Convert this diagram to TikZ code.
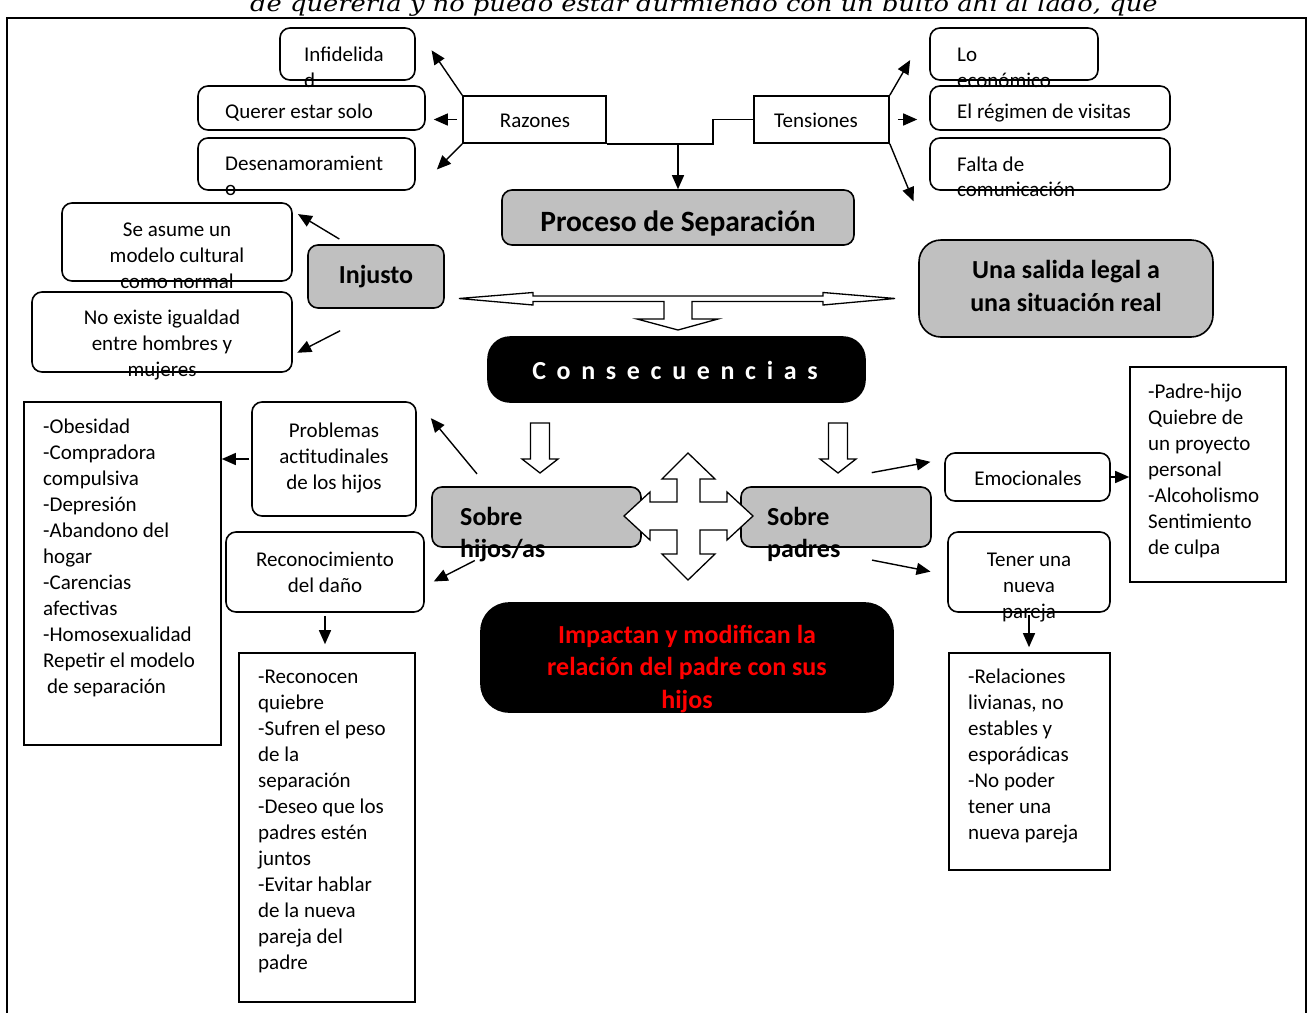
\documentclass[tikz,border=0pt]{standalone}
\usepackage{fontspec}
\setmainfont{Carlito}
\newfontfamily\quotefont{DejaVu Serif}
\newfontfamily\spacedfont[LetterSpace=41]{Carlito}
\usepackage{tikz}
\usetikzlibrary{arrows.meta,calc}
\definecolor{boxgray}{RGB}{192,192,192}
\tikzset{
  rbox/.style={draw, line width=1.6pt, rounded corners=10pt, inner sep=0pt},
  sbox/.style={draw, line width=1.6pt, inner sep=0pt},
  gbox/.style={rbox, fill=boxgray},
  kbox/.style={rbox, fill=black, rounded corners=22pt},
  conn/.style={line width=1.4pt, -{Triangle[length=14pt,width=12pt]}},
  hollow/.style={draw, line width=1.3pt, fill=white, line join=miter},
  txt/.style={inner sep=0pt, font=\fontsize{21}{26}\selectfont},
  bigtxt/.style={inner sep=0pt, font=\fontsize{26}{32}\selectfont\bfseries},
}

\begin{document}
\begin{tikzpicture}[x=1pt,y=-1pt]
\useasboundingbox (0,0) rectangle (1311,1012);
\clip (0,0) rectangle (1311,1012);
%%%%% Frame %%%%%
\node[anchor=base west, inner sep=0pt, xscale=1.17, transform shape, font=\quotefont\itshape\fontsize{22}{26}\selectfont] (quote) at (250,11) {de quererla y no puedo estar durmiendo con un bulto ahí al lado, que};
\draw[line width=1.6pt] (7,1030) |- (1306,18) -- (1306,1030);

%%%%% Boxes %%%%%
\foreach \n/\a/\b/\c/\d in {inf/280/28/415/80, quer/198/86/425/130, des/198/138/415/190,
  eco/930/28/1098/80, reg/930/86/1170/130, fal/930/138/1170/190,
  asum/62/203/292/281, igu/32/292/292/372, prob/252/402/416/516,
  rec/226/532/424/612, emo/945/453/1110/501, tener/948/532/1110/612}
  \node[rbox, minimum width=\c-\a, minimum height=\d-\b] (\n) at ({(\a+\c)/2},{(\b+\d)/2}) {};
\foreach \n/\a/\b/\c/\d in {raz/463/96/606/143, ten/754/96/889/143, lista/24/402/221/745,
  recl/239/653/415/1002, padl/1130/367/1286/582, rell/949/653/1110/870}
  \node[sbox, minimum width=\c-\a, minimum height=\d-\b] (\n) at ({(\a+\c)/2},{(\b+\d)/2}) {};
\foreach \n/\a/\b/\c/\d in {proc/502/190/854/245, inj/308/245/444/308,
  shij/432/487/641/547, spad/741/487/931/547}
  \node[gbox, minimum width=\c-\a, minimum height=\d-\b] (\n) at ({(\a+\c)/2},{(\b+\d)/2}) {};
\node[gbox, rounded corners=22pt, minimum width=294, minimum height=97] (sal) at (1066,288.5) {};
\node[kbox, minimum width=377, minimum height=65] (cons) at (676.5,369.5) {};
\node[kbox, rounded corners=28pt, minimum width=412, minimum height=109] (imp) at (687,657.5) {};

%%%%% Texts %%%%%
\node[txt, anchor=base west] (infT) at (304,61) {Infidelida};
\node[txt, anchor=base west] (infU) at (304,87) {d};
\node[txt, anchor=base west] (querT) at (225,118) {Querer estar solo};
\node[txt, anchor=base west] (desT) at (225,170) {Desenamoramient};
\node[txt, anchor=base west] (desU) at (225,195) {o};
\node[txt, anchor=base] (razT) at (535,127) {Razones};
\node[txt, anchor=base] (tenT) at (816,127) {Tensiones};
\node[txt, anchor=base west] (ecoT) at (957,61) {Lo};
\node[txt, anchor=base west] (ecoU) at (957,87) {económico};
\node[txt, anchor=base west] (regT) at (957,118) {El régimen de visitas};
\node[txt, anchor=base west] (falT) at (957,171) {Falta de};
\node[txt, anchor=base west] (falU) at (957,196) {comunicación};
\node[bigtxt, anchor=base, font=\fontsize{29.5}{34}\selectfont\bfseries] (procT) at (678,231) {Proceso de Separación};
\node[bigtxt, anchor=base] (injT) at (376,283) {Injusto};
\foreach \t [count=\i from 0] in {Se asume un, modelo cultural, como normal}
  \node[txt, anchor=base] (asum\i) at (177,{236+26*\i}) {\t};
\foreach \t [count=\i from 0] in {No existe igualdad, entre hombres y, mujeres}
  \node[txt, anchor=base] (igu\i) at (162,{324+26*\i}) {\t};
\foreach \t [count=\i from 0] in {Una salida legal a, una situación real}
  \node[bigtxt, anchor=base] (sal\i) at (1066,{278+33*\i}) {\t};
\node[inner sep=0pt, anchor=base, text=white, font=\spacedfont\bfseries\fontsize{26}{32}\selectfont] (consT) at (675,379) {Consecuencias};
\foreach \t [count=\i from 0] in {Problemas, actitudinales, de los hijos}
  \node[txt, anchor=base] (prob\i) at (334,{437+26*\i}) {\t};
\foreach \t [count=\i from 0] in {Sobre, hijos/as}
  \node[bigtxt, anchor=base west] (shij\i) at (460,{525+32*\i}) {\t};
\foreach \t [count=\i from 0] in {Sobre, padres}
  \node[bigtxt, anchor=base west] (spad\i) at (767,{525+32*\i}) {\t};
\foreach \t [count=\i from 0] in {Reconocimiento, del daño}
  \node[txt, anchor=base] (rec\i) at (325,{566+26*\i}) {\t};
\foreach \t [count=\i from 0] in {Impactan y modifican la, relación del padre con sus, hijos}
  \node[bigtxt, anchor=base, text=red] (imp\i) at (687,{643+32.5*\i}) {\t};
\node[txt, anchor=base] (emoT) at (1028,485) {Emocionales};
\foreach \t [count=\i from 0] in {Tener una, nueva, pareja}
  \node[txt, anchor=base] (tener\i) at (1029,{566+26*\i}) {\t};
\foreach \t [count=\i from 0] in {-Obesidad, -Compradora, compulsiva, -Depresión, -Abandono del,
  hogar, -Carencias, afectivas, -Homosexualidad, Repetir el modelo, \hspace{4pt}de separación}
  \node[txt, anchor=base west] (lista\i) at (43,{433+26*\i}) {\t};
\foreach \t [count=\i from 0] in {-Reconocen, quiebre, -Sufren el peso, de la, separación,
  -Deseo que los, padres estén, juntos, -Evitar hablar, de la nueva, pareja del, padre}
  \node[txt, anchor=base west] (recl\i) at (258,{683+26*\i}) {\t};
\foreach \t [count=\i from 0] in {-Padre-hijo, Quiebre de, un proyecto, personal, -Alcoholismo,
  Sentimiento, de culpa}
  \node[txt, anchor=base west] (padl\i) at (1148,{398+26*\i}) {\t};
\foreach \t [count=\i from 0] in {-Relaciones, {livianas, no}, estables y, esporádicas, -No poder,
  tener una, nueva pareja}
  \node[txt, anchor=base west] (rell\i) at (968,{683+26*\i}) {\t};

%%%%% Connectors %%%%%
\coordinate (kink) at (713,119.5);
\draw[line width=1.6pt] (raz.south east) -| (kink) -- (ten.west);
\draw[conn] (raz.south east -| proc.north) -- (proc.north);
\draw[conn, shorten >=28] (raz.north west) -- (inf.north east);
\draw[conn, shorten <=5, shorten >=8] (raz.west) -- (raz.west -| quer.east);
\draw[conn, shorten >=30] (raz.south west) -- (des.south east);
\draw[conn, shorten >=38] (ten.north east) -- (eco.north west);
\draw[conn, shorten <=8, shorten >=12] (ten.east) -- (ten.east -| reg.west);
\draw[conn, shorten >=41] (ten.south east) -- (fal.south west |- sal.north);
\draw[conn, shorten <=10, shorten >=6] (inj.131) -- (asum.15);
\draw[conn, shorten <=48, shorten >=5] (inj.-78) -- (igu.-10);
\draw[conn, shorten <=16, shorten >=22] (shij.148) -- (prob.north east);
\draw[conn, shorten <=2] (prob.west) -- (prob.west -| lista.east);
\draw[conn, shorten <=28, shorten >=10] (shij.220) -- (rec.-8);
\draw[conn, shorten <=3, shorten >=8] (rec.south) -- (rec.south |- recl.north);
\draw[conn, shorten <=75, shorten >=14] (spad.141) -- (emo.168);
\draw[conn, shorten <=64, shorten >=17] (spad.229) -- (tener.182);
\draw[conn] (emo.east) -- (emo.east -| padl.west);
\draw[conn, shorten <=2, shorten >=5] (tener.south) -- (tener.south |- rell.north);

%%%%% Block arrows %%%%%
\draw[hollow] (459,298.5) -- (533,292.5) -- (533,296) -- (823,296) -- (823,292.5) -- (895,298.5)
  -- (823,305) -- (823,301.5) -- (692,301.5) -- (692,319) -- (718,319) -- (678,330) -- (637,319)
  -- (664,319) -- (664,301.5) -- (533,301.5) -- (533,305) -- cycle;
\foreach \x in {540,838}{
  \draw[hollow] ({\x-9.5},423) -- ({\x+9.5},423) -- ({\x+9.5},459) -- ({\x+18},459) -- (\x,473)
    -- ({\x-18},459) -- ({\x-9.5},459) -- cycle;
}
\draw[hollow] (688,453) -- (715,479) -- (700,479) -- (700,502) -- (727,502) -- (727,492) -- (753,516)
  -- (727,540) -- (727,530) -- (700,530) -- (700,554) -- (715,554) -- (688,580) -- (662,554)
  -- (677,554) -- (677,530) -- (650,530) -- (650,540) -- (624,516) -- (650,492) -- (650,502)
  -- (677,502) -- (677,479) -- (662,479) -- cycle;

\end{tikzpicture}
\end{document}
